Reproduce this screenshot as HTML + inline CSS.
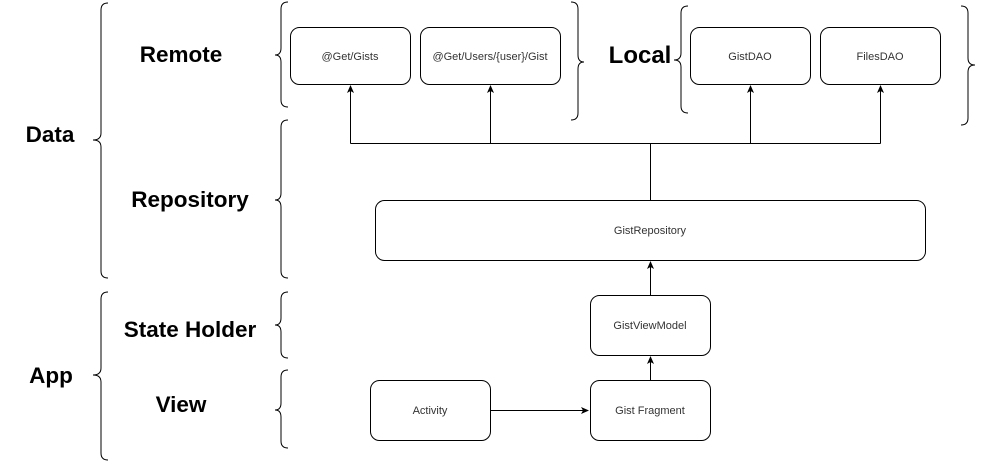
<!DOCTYPE html>
<html><head><style>body{margin:0;background:#fff}svg{display:block}</style></head><body>
<svg width="981" height="461" viewBox="0 0 981 461" xmlns="http://www.w3.org/2000/svg" font-family="Liberation Sans, Arial, sans-serif">
<defs><marker id="a" markerWidth="8" markerHeight="8" refX="7" refY="4" orient="auto" markerUnits="userSpaceOnUse"><path d="M0,0.5 L8,4 L0,7.5 L2,4 Z" fill="#000"/></marker></defs>
<g fill="none" stroke="#000" stroke-width="1">
<path d="M108,3 Q101,3 101,10 L101,133 Q101,140 93,140 Q101,140 101,147 L101,271 Q101,278 108,278"/>
<path d="M288,2 Q281,2 281,9 L281,48 Q281,55 275,55 Q281,55 281,62 L281,100 Q281,107 288,107"/>
<path d="M288,120 Q281,120 281,127 L281,193 Q281,200 275,200 Q281,200 281,207 L281,271 Q281,278 288,278"/>
<path d="M108,292 Q101,292 101,299 L101,368 Q101,375 93,375 Q101,375 101,382 L101,453 Q101,460 108,460"/>
<path d="M288,292 Q281,292 281,299 L281,318 Q281,325 275,325 Q281,325 281,332 L281,351 Q281,358 288,358"/>
<path d="M288,370 Q281,370 281,377 L281,403 Q281,410 275,410 Q281,410 281,417 L281,441 Q281,448 288,448"/>
<path d="M688,6 Q681,6 681,13 L681,53 Q681,60 674,60 Q681,60 681,67 L681,106 Q681,113 688,113"/>
<path d="M571,2 Q578,2 578,9 L578,55 Q578,62 584,62 Q578,62 578,69 L578,113 Q578,120 571,120"/>
<path d="M961,6 Q968,6 968,13 L968,58 Q968,65 975,65 Q968,65 968,72 L968,118 Q968,125 961,125"/>
<rect x="290.5" y="27.5" width="120" height="57" rx="9"/>
<rect x="420.5" y="27.5" width="140" height="57" rx="9"/>
<rect x="690.5" y="27.5" width="120" height="57" rx="9"/>
<rect x="820.5" y="27.5" width="120" height="57" rx="9"/>
<rect x="375.5" y="200.5" width="550" height="60" rx="9"/>
<rect x="590.5" y="295.5" width="120" height="60" rx="9"/>
<rect x="370.5" y="380.5" width="120" height="60" rx="9"/>
<rect x="590.5" y="380.5" width="120" height="60" rx="9"/>
<path d="M350.5,143.5 L880.5,143.5"/>
<path d="M650.5,200 L650.5,143.5"/>
<path d="M350.5,143.5 L350.5,86" marker-end="url(#a)"/>
<path d="M490.5,143.5 L490.5,86" marker-end="url(#a)"/>
<path d="M750.5,143.5 L750.5,86" marker-end="url(#a)"/>
<path d="M880.5,143.5 L880.5,86" marker-end="url(#a)"/>
<path d="M650.5,295 L650.5,262" marker-end="url(#a)"/>
<path d="M650.5,380 L650.5,357" marker-end="url(#a)"/>
<path d="M490.5,410.5 L588,410.5" marker-end="url(#a)"/>
</g>
<g font-size="11" fill="#333" text-anchor="middle">
<text x="350" y="60">@Get/Gists</text>
<text x="490" y="60">@Get/Users/{user}/Gist</text>
<text x="750" y="60">GistDAO</text>
<text x="880" y="60">FilesDAO</text>
<text x="650" y="234">GistRepository</text>
<text x="650" y="329">GistViewModel</text>
<text x="430" y="414">Activity</text>
<text x="650" y="414">Gist Fragment</text>
</g>
<g font-size="22.5" font-weight="bold" fill="#000" text-anchor="middle">
<text x="181" y="62">Remote</text>
<text x="50" y="142">Data</text>
<text x="190" y="207">Repository</text>
<text x="190" y="337">State Holder</text>
<text x="51" y="383">App</text>
<text x="181" y="412">View</text>
<text x="640" y="63" font-size="24">Local</text>
</g>
</svg>
</body></html>
